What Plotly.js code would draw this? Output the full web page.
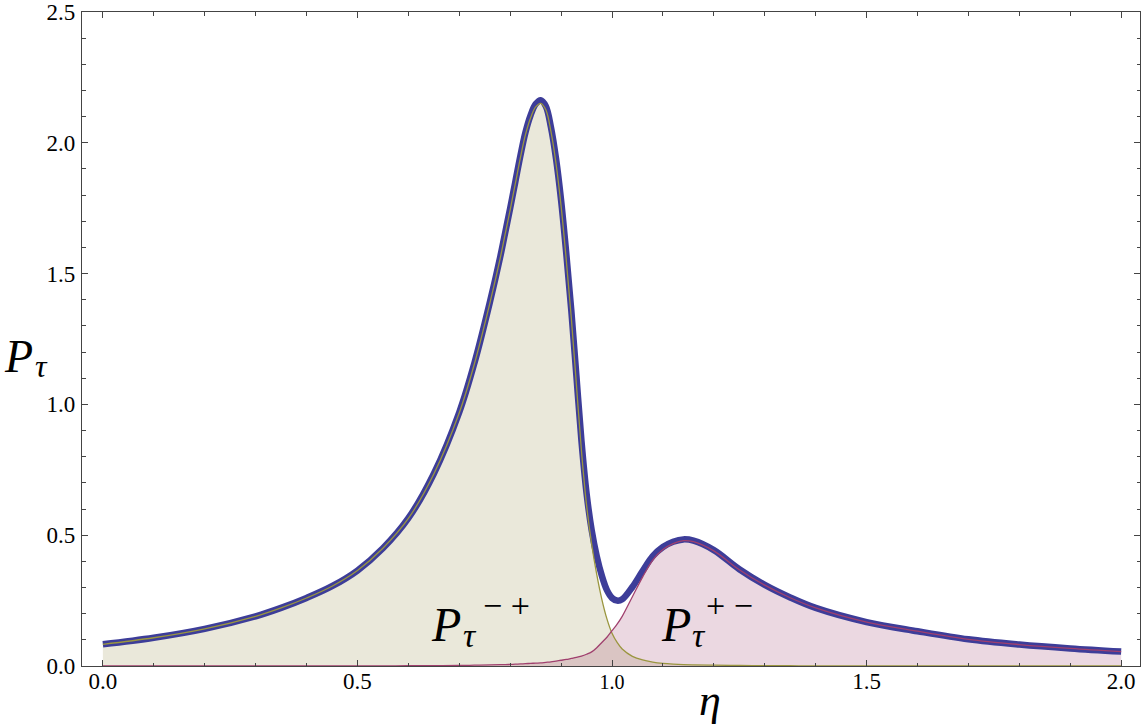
<!DOCTYPE html>
<html>
<head>
<meta charset="utf-8">
<script src="https://cdn.plot.ly/plotly-3.0.1.min.js"></script>
<style>
  html, body { margin: 0; padding: 0; background: #ffffff; }
  #chart { width: 1144px; height: 726px; }
</style>
</head>
<body>
<div id="chart"></div>
<script>
// eta grid
const eta = [0, 0.1, 0.2, 0.3, 0.35, 0.4, 0.45, 0.5, 0.55, 0.6,
             0.65, 0.7, 0.73, 0.76, 0.78, 0.79, 0.8, 0.81, 0.82, 0.83,
             0.84, 0.85, 0.86, 0.87, 0.88, 0.89, 0.9, 0.91, 0.92, 0.93,
             0.94, 0.95, 0.96, 0.97, 0.98, 0.99, 1.0, 1.01, 1.02, 1.04,
             1.06, 1.08, 1.1, 1.12, 1.14, 1.16, 1.2, 1.25, 1.3, 1.35,
             1.4, 1.5, 1.6, 1.7, 1.8, 1.9, 2.0];

// total P_tau
const pTotal = [0.083, 0.108, 0.142, 0.19, 0.222, 0.26, 0.305, 0.365, 0.45, 0.565,
                0.735, 0.97, 1.16, 1.39, 1.56, 1.655, 1.75, 1.85, 1.95, 2.04,
                2.105, 2.148, 2.163, 2.14, 2.06, 1.94, 1.78, 1.58, 1.36, 1.11,
                0.86, 0.66, 0.52, 0.42, 0.345, 0.29, 0.26, 0.25, 0.255, 0.302,
                0.363, 0.42, 0.455, 0.475, 0.484, 0.479, 0.443, 0.37, 0.31, 0.262,
                0.222, 0.168, 0.133, 0.102, 0.082, 0.067, 0.055];

// P_tau^{-+}
const pMinusPlus = [0.083, 0.108, 0.142, 0.19, 0.222, 0.26, 0.305, 0.365, 0.45, 0.564,
                    0.734, 0.968, 1.157, 1.386, 1.555, 1.65, 1.744, 1.843, 1.942, 2.031,
                    2.095, 2.137, 2.151, 2.126, 2.044, 1.921, 1.758, 1.555, 1.331, 1.077,
                    0.822, 0.615, 0.466, 0.35, 0.255, 0.18, 0.125, 0.09, 0.065, 0.037,
                    0.023, 0.015, 0.01, 0.007, 0.005, 0.004, 0.003, 0.002, 0.001, 0.001,
                    0.0, 0.0, 0.0, 0.0, 0.0, 0.0, 0.0];

// P_tau^{+-}
const pPlusMinus = [0.0, 0.0, 0.0, 0.0, 0.0, 0.0, 0.0, 0.0, 0.0, 0.001,
                    0.001, 0.002, 0.003, 0.004, 0.005, 0.005, 0.006, 0.007, 0.008, 0.009,
                    0.01, 0.011, 0.012, 0.014, 0.016, 0.019, 0.022, 0.025, 0.029, 0.033,
                    0.038, 0.045, 0.054, 0.07, 0.09, 0.11, 0.135, 0.16, 0.19, 0.265,
                    0.34, 0.405, 0.445, 0.468, 0.479, 0.475, 0.44, 0.368, 0.309, 0.261,
                    0.222, 0.168, 0.133, 0.102, 0.082, 0.067, 0.055];

const xTicks = [0, 0.5, 1.0, 1.5, 2.0];
const xTickText = ['0.0', '0.5', '<span style="font-size:20px">1.0</span>', '1.5', '2.0'];
const yTicks = [0, 0.5, 1.0, 1.5, 2.0, 2.5];
const yTickText = ['0.0', '0.5', '1.0', '1.5', '2.0', '2.5'];

const serif = 'Liberation Serif';
const lineShape = {shape: 'spline', smoothing: 1};

const traces = [
  {x: eta, y: pMinusPlus, type: 'scatter', mode: 'lines', fill: 'tozeroy',
   fillcolor: 'rgba(150,140,70,0.2)', line: {width: 0, ...lineShape}, hoverinfo: 'skip', showlegend: false},
  {x: eta, y: pPlusMinus, type: 'scatter', mode: 'lines', fill: 'tozeroy',
   fillcolor: 'rgba(153,61,107,0.2)', line: {width: 0, ...lineShape}, hoverinfo: 'skip', showlegend: false},
  {x: eta, y: pTotal, type: 'scatter', mode: 'lines',
   line: {color: '#3d3d99', width: 6.5, ...lineShape}, showlegend: false},
  {x: eta, y: pMinusPlus, type: 'scatter', mode: 'lines',
   line: {color: '#9a963f', width: 1.3, ...lineShape}, showlegend: false},
  {x: eta, y: pPlusMinus, type: 'scatter', mode: 'lines',
   line: {color: '#a0406e', width: 1.3, ...lineShape}, showlegend: false}
];

const axisCommon = {
  showgrid: false, zeroline: false, showline: true, mirror: 'allticks',
  linecolor: '#444', linewidth: 1.2,
  ticks: 'inside', ticklen: 6, tickwidth: 1, tickcolor: '#444',
  tickfont: {family: serif, size: 23, color: '#000'},
  minor: {dtick: 0.1, ticks: 'inside', ticklen: 3.5, tickwidth: 1, tickcolor: '#444', showgrid: false}
};

// paper-coordinate helpers for label placement (pixels in the 1144x726 frame)
const PL = 82, PR = 1140, PT = 12, PB = 666;
const px = v => (v - PL) / (PR - PL);
const py = v => (PB - v) / (PB - PT);

function label(text, cx, cy, size) {
  return {xref: 'paper', yref: 'paper', x: px(cx), y: py(cy), text: text, showarrow: false,
          xanchor: 'center', yanchor: 'middle', font: {family: serif, size: size, color: '#000'}};
}

const layout = {
  width: 1144, height: 726,
  margin: {l: PL, r: 1144 - PR, t: PT, b: 726 - PB, pad: 0},
  paper_bgcolor: '#ffffff', plot_bgcolor: '#ffffff',
  showlegend: false,
  xaxis: {...axisCommon, range: [-0.041, 2.037], tickmode: 'array', tickvals: xTicks, ticktext: xTickText, ticklabelstandoff: -6},
  yaxis: {...axisCommon, range: [0, 2.5], tickmode: 'array', tickvals: yTicks, ticktext: yTickText, ticklabelstandoff: 1},
  annotations: [
    // axis titles
    label('<i>η</i>', 710, 700, 44),
    label('<i>P</i>', 18, 356, 46),
    label('<i>τ</i>', 41, 366, 32),
    // P_tau^{-+}
    label('<i>P</i>', 446, 624, 48),
    label('<i>τ</i>', 470, 635, 34),
    label('− +', 506, 605, 34),
    // P_tau^{+-}
    label('<i>P</i>', 676, 624, 48),
    label('<i>τ</i>', 699, 635, 34),
    label('+ −', 729, 605, 34)
  ]
};

Plotly.newPlot('chart', traces, layout, {staticPlot: true, displayModeBar: false});
</script>
</body>
</html>
